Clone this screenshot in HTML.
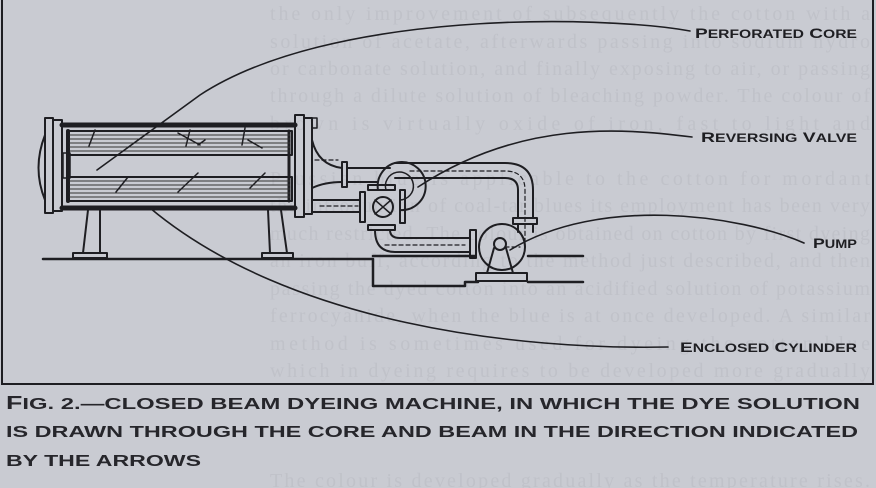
<!DOCTYPE html>
<html><head><meta charset="utf-8"><style>
html,body{margin:0;padding:0;background:#c9cbd2;}
svg{display:block}
</style></head><body>
<svg width="876" height="488" viewBox="0 0 876 488" xmlns="http://www.w3.org/2000/svg">
<rect width="876" height="488" fill="#c9cbd2"/>
<!-- faint show-through text -->
<g fill="#c0c2c9" font-family="Liberation Serif, serif" font-size="20">
<text x="270" y="20" textLength="600" lengthAdjust="spacing">the only improvement of subsequently the cotton with a</text>
<text x="270" y="48" textLength="600" lengthAdjust="spacing">solution of acetate, afterwards passing into sodium hydro</text>
<text x="270" y="75" textLength="600" lengthAdjust="spacing">or carbonate solution, and finally exposing to air, or passing</text>
<text x="270" y="102" textLength="600" lengthAdjust="spacing">through a dilute solution of bleaching powder. The colour of</text>
<text x="270" y="130" textLength="600" lengthAdjust="spacing">brown is virtually oxide of iron, fast to light and</text>
<text x="270" y="185" textLength="600" lengthAdjust="spacing">Prussian blue is applicable to the cotton for mordant</text>
<text x="270" y="212" textLength="600" lengthAdjust="spacing">the introduction of coal-tar blues its employment has been very</text>
<text x="270" y="240" textLength="600" lengthAdjust="spacing">much restricted. The colour is obtained on cotton by first dyeing</text>
<text x="270" y="267" textLength="600" lengthAdjust="spacing">an iron buff, according to the method just described, and then</text>
<text x="270" y="295" textLength="600" lengthAdjust="spacing">passing the dyed cotton into an acidified solution of potassium</text>
<text x="270" y="322" textLength="600" lengthAdjust="spacing">ferrocyanide, when the blue is at once developed. A similar</text>
<text x="270" y="350" textLength="600" lengthAdjust="spacing">method is sometimes used for dyeing the cotton blue</text>
<text x="270" y="377" textLength="600" lengthAdjust="spacing">which in dyeing requires to be developed more gradually</text>
<text x="270" y="487" textLength="600" lengthAdjust="spacing">The colour is developed gradually as the temperature rises.</text>
</g>
<!-- frame -->
<path d="M2 -2 V384 H873 V-2" fill="none" stroke="#1e1e22" stroke-width="2"/>
<g fill="none" stroke="#1e1e22" stroke-linejoin="round" stroke-linecap="round">
<!-- floor -->
<path d="M43 259 H373 V286 H465 V282 H478 M373 256 H475 M528 256 H583 M528 282 H583" stroke-width="2.5"/>
<!-- legs -->
<path d="M88 210 L83 253 H100 L100 210 M268 210 L270 253 H287 L281 210" stroke-width="2"/>
<rect x="73" y="253" width="34" height="5" stroke-width="2"/>
<rect x="262" y="253" width="31" height="5" stroke-width="2"/>
<!-- cylinder -->
<path d="M45 135 Q32 168 45 200" stroke-width="2"/>
<rect x="45" y="118" width="8" height="95" stroke-width="2"/>
<rect x="53" y="120" width="9" height="91" stroke-width="2"/>
<path d="M62 125 H295 M62 208 H295" stroke-width="5"/>
<rect x="68" y="131" width="224" height="24" stroke-width="2"/>
<rect x="68" y="177" width="224" height="24" stroke-width="2"/>
<path d="M68 131 V201" stroke-width="4"/>
<path d="M289 131 V201" stroke-width="3"/>
<rect x="63" y="153" width="7" height="25" stroke-width="1.5"/>
<g stroke-width="1" stroke="#333">
<path d="M70 135 H290 M70 139 H290 M70 143 H290 M70 147 H290 M70 151 H290"/>
<path d="M70 181 H290 M70 185 H290 M70 189 H290 M70 193 H290 M70 197 H290"/>
</g>
<!-- arrows in beams -->
<g stroke-width="1.5">
<path d="M95 130 L89 146 M190 130 L186 146 M245 128 L242 145 M205 140 L198 145 M128 177 L116 192 M198 173 L178 192 M265 173 L250 188 M200 145 L178 133 M262 148 L248 140"/>
</g>
<!-- right flange -->
<rect x="295" y="115" width="9" height="102" stroke-width="2"/>
<rect x="304" y="118" width="8" height="96" stroke-width="2"/>
<rect x="312" y="118" width="5" height="10" stroke-width="1.5"/>
<!-- top pipe -->
<path d="M312 140 Q318 165 342 168 M312 188 Q325 182 342 182" stroke-width="2"/>
<rect x="342" y="162" width="5" height="25" stroke-width="2"/>
<path d="M347 168 H390 M347 182 H378" stroke-width="2"/>
<path d="M395 163 H505 Q533 163 533 190 V218 M395 178 H505 Q518 178 518 190 V218" stroke-width="2"/>
<rect x="513" y="218" width="24" height="6" stroke-width="2"/>
<path d="M518 224 V232 M533 224 V232" stroke-width="2"/>
<!-- loop -->
<path d="M378 190 A24 24 0 1 1 400 210" stroke-width="2"/>
<path d="M386 190 A14 14 0 1 1 400 200" stroke-width="1.5"/>
<!-- lower pipe from flange -->
<path d="M312 200 H360 M312 212 H360" stroke-width="2"/>
<!-- valve -->
<rect x="360" y="192" width="5" height="30" stroke-width="2"/>
<rect x="400" y="190" width="5" height="33" stroke-width="2"/>
<rect x="368" y="185" width="27" height="5" stroke-width="2"/>
<rect x="368" y="225" width="27" height="5" stroke-width="2"/>
<circle cx="383" cy="207" r="10" stroke-width="2"/>
<path d="M375 200 L391 214 M391 200 L375 214" stroke-width="1.5"/>
<!-- lower pipe to pump -->
<path d="M375 230 Q375 252 395 252 H470 M390 230 Q390 238 400 238 H470" stroke-width="2"/>
<rect x="470" y="230" width="6" height="28" stroke-width="2"/>
<!-- pump -->
<circle cx="502" cy="247" r="23" stroke-width="2"/>
<circle cx="500" cy="244" r="6" stroke-width="2"/>
<path d="M494 248 L487 273 M506 248 L513 273" stroke-width="2"/>
<rect x="476" y="273" width="51" height="8" stroke-width="2"/>
<!-- flow dashes -->
<g stroke-width="1.2" stroke-dasharray="4 3">
<path d="M410 171 H505 Q525 171 525 190 V245 M320 206 H358 M385 245 Q400 245 410 245 H465 M505 247 H520 M315 160 H338"/>
</g>
<!-- leader lines -->
<g stroke-width="1.6">
<path d="M690 31 C600 15 330 10 200 95 L97 170"/>
<path d="M692 137 C620 128 520 120 418 187"/>
<path d="M804 243 C740 215 600 195 510 250"/>
<path d="M668 347 C520 350 290 325 150 208"/>
</g>
</g>
<!-- labels -->
<g fill="#1e1e22" font-family="Liberation Sans, sans-serif" font-weight="bold">
<text x="695" y="38" font-size="14" textLength="162" lengthAdjust="spacingAndGlyphs">P<tspan font-size="11.5">ERFORATED</tspan> C<tspan font-size="11.5">ORE</tspan></text>
<text x="701" y="142" font-size="14" textLength="156" lengthAdjust="spacingAndGlyphs">R<tspan font-size="11.5">EVERSING</tspan> V<tspan font-size="11.5">ALVE</tspan></text>
<text x="813" y="248" font-size="14" textLength="44" lengthAdjust="spacingAndGlyphs">P<tspan font-size="11.5">UMP</tspan></text>
<text x="680" y="352" font-size="14" textLength="177" lengthAdjust="spacingAndGlyphs">E<tspan font-size="11.5">NCLOSED</tspan> C<tspan font-size="11.5">YLINDER</tspan></text>
</g>
<g fill="#26262b" font-family="Liberation Sans, sans-serif" font-weight="bold" font-size="16">
<text x="6" y="409" textLength="854" lengthAdjust="spacingAndGlyphs"><tspan font-size="18">F</tspan>IG. 2.—CLOSED BEAM DYEING MACHINE, IN WHICH THE DYE SOLUTION</text>
<text x="6" y="437" textLength="852" lengthAdjust="spacingAndGlyphs">IS DRAWN THROUGH THE CORE AND BEAM IN THE DIRECTION INDICATED</text>
<text x="6" y="466" textLength="195" lengthAdjust="spacingAndGlyphs">BY THE ARROWS</text>
</g>
</svg>
</body></html>
